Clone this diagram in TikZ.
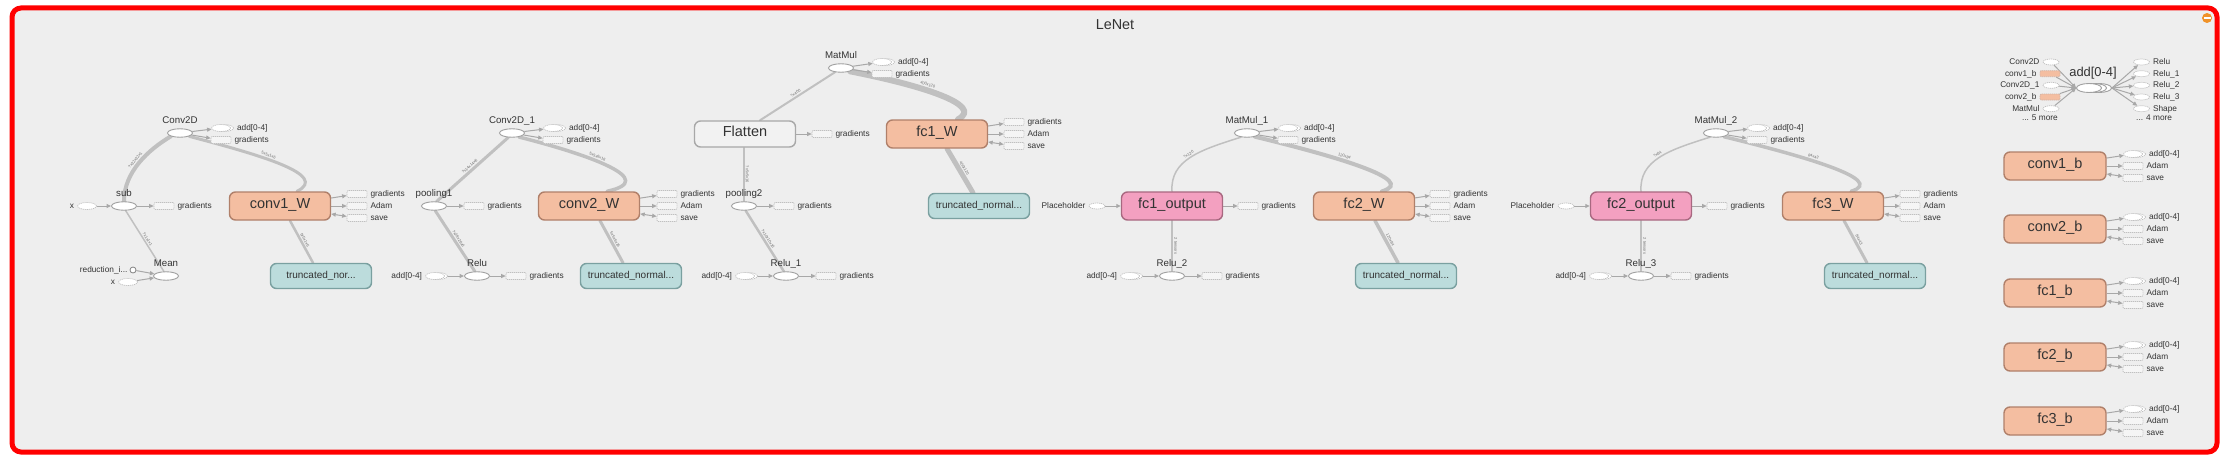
\documentclass[tikz,border=0pt]{standalone}
\usepackage{fontspec}
\setmainfont{Liberation Sans}
\usetikzlibrary{arrows.meta,shapes.geometric}
\pgfdeclarelayer{back}
\pgfdeclarelayer{edges}
\pgfsetlayers{back,edges,main}

\definecolor{bgc}{RGB}{238,238,238}
\definecolor{edgec}{RGB}{192,192,192}
\definecolor{arrc}{RGB}{168,168,168}
\definecolor{txtc}{RGB}{51,51,51}
\definecolor{elabc}{RGB}{110,110,110}
\definecolor{opdraw}{RGB}{160,160,160}
\definecolor{dashc}{RGB}{192,192,192}
\definecolor{drfill}{RGB}{245,245,245}
\definecolor{orfill}{RGB}{244,190,161}
\definecolor{ordraw}{RGB}{176,128,106}
\definecolor{pkfill}{RGB}{243,160,192}
\definecolor{pkdraw}{RGB}{168,104,128}
\definecolor{tlfill}{RGB}{188,220,220}
\definecolor{tldraw}{RGB}{122,160,160}
\definecolor{gyfill}{RGB}{242,242,242}
\definecolor{gydraw}{RGB}{168,168,168}
\definecolor{iconc}{RGB}{240,146,40}

\tikzset{
 opnode/.style={ellipse, draw=opdraw, fill=white, line width=0.9pt, minimum width=25pt, minimum height=8.5pt, inner sep=0pt},
 dellnode/.style={ellipse, draw=dashc, fill=white, dash pattern=on 1.2pt off 0.8pt, line width=0.7pt, minimum width=19pt, minimum height=7pt, inner sep=0pt},
 smallell/.style={dellnode, minimum width=16pt, minimum height=6pt},
 drectnode/.style={rectangle, rounded corners=1pt, draw=dashc, fill=drfill, dash pattern=on 1.2pt off 0.8pt, line width=0.7pt, minimum width=20pt, minimum height=7pt, inner sep=0pt},
 orrect/.style={drectnode, fill=orfill, draw=ordraw!60, minimum height=6pt},
 redcirc/.style={circle, draw=gray, fill=white, line width=0.8pt, minimum size=6pt, inner sep=0pt},
 bigbox/.style={rectangle, rounded corners=6pt, line width=1.4pt, minimum width=101pt, minimum height=28pt, inner sep=0pt, font=\fontsize{14.5}{16}\selectfont, text=txtc, text height=0.72em, text depth=0.2em},
 obox/.style={bigbox, fill=orfill, draw=ordraw},
 bbox/.style={obox, minimum width=102pt},
 pbox/.style={bigbox, fill=pkfill, draw=pkdraw},
 gbox/.style={bigbox, fill=gyfill, draw=gydraw, minimum height=26pt},
 tbox/.style={bigbox, fill=tlfill, draw=tldraw, minimum height=25pt, font=\fontsize{10}{12}\selectfont},
 oplab/.style={inner sep=0pt, font=\fontsize{9.7}{11}\selectfont, text=txtc},
 annlab/.style={inner sep=0pt, font=\fontsize{8.3}{10}\selectfont, text=txtc, text height=0.7em, text depth=0.2em},
 elab/.style={inner sep=1.2pt, font=\fontsize{4}{4}\selectfont, text=elabc, sloped, above},
 flowline/.style={draw=edgec, line cap=round},
 annarr/.style={draw=arrc, line width=1pt, -{Triangle[length=4.5pt,width=4pt]}},
 annboth/.style={draw=arrc, line width=1pt, {Triangle[length=4.5pt,width=4pt]}-{Triangle[length=4.5pt,width=4pt]}}
}

\newcommand{\opn}[4]{\node[opnode] (#1) at (#2,#3) {}; \node[oplab, anchor=base] (#1-t) at (#2,#3-9.5) {#4};}
\newcommand{\annR}[5]{\node[#1] (#2) at (#3,#4) {}; \node[annlab, anchor=west] (#2-t) at ([xshift=3pt]#2.east) {#5};}
\newcommand{\annL}[5]{\node[#1] (#2) at (#3,#4) {}; \node[annlab, anchor=east] (#2-t) at ([xshift=-3pt]#2.west) {#5};}
\newcommand{\serR}[4]{\node[dellnode] (#1-b) at (#2+3,#3) {}; \node[dellnode] (#1) at (#2,#3) {}; \node[annlab, anchor=west] (#1-t) at ([xshift=3pt]#1-b.east) {#4};}
\newcommand{\serL}[4]{\node[dellnode] (#1-b) at (#2+3,#3) {}; \node[dellnode] (#1) at (#2,#3) {}; \node[annlab, anchor=east] (#1-t) at ([xshift=-3pt]#1.west) {#4};}
\newcommand{\trioW}[3]{%
 \annR{drectnode}{#1g}{#2}{#3-12}{gradients}
 \annR{drectnode}{#1a}{#2}{#3}{Adam}
 \annR{drectnode}{#1s}{#2}{#3+12}{save}
 \begin{pgfonlayer}{edges}
 \draw[annarr] (#1) -- (#1g);
 \draw[annarr] (#1) -- (#1a);
 \draw[annboth] (#1) -- (#1s);
 \end{pgfonlayer}}
\newcommand{\trioB}[3]{%
 \node[bbox] (#1) at (2055,#2) {#3};
 \serR{#1g}{2133}{#2-12}{add[0-4]}
 \annR{drectnode}{#1a}{2133}{#2}{Adam}
 \annR{drectnode}{#1s}{2133}{#2+12}{save}
 \begin{pgfonlayer}{edges}
 \draw[annarr] (#1) -- (#1g);
 \draw[annarr] (#1) -- (#1a);
 \draw[annboth] (#1) -- (#1s);
 \end{pgfonlayer}}

\begin{document}
\begin{tikzpicture}[x=1pt,y=-1pt]
\useasboundingbox (0,0) rectangle (2230,460);
\begin{pgfonlayer}{back}
\fill[white] (0,0) rectangle (2230,460);
\draw[red, line width=5pt, rounded corners=9pt, fill=bgc] (12,8) rectangle (2217,452);
\end{pgfonlayer}
\node[font=\fontsize{14.4}{16}\selectfont, text=txtc, inner sep=0pt] (title) at (1115,25) {LeNet};
\node[circle, fill=iconc, minimum size=10pt, inner sep=0pt] (icon) at (2207,18) {};
\fill[white] ([xshift=-3.5pt,yshift=-1pt]icon.center) rectangle ([xshift=3.5pt,yshift=1pt]icon.center);

% ---------- module A ----------
\opn{conv2d}{180}{133}{Conv2D}
\serR{c2da}{221}{128}{add[0-4]}
\annR{drectnode}{c2dg}{221}{140}{gradients}
\opn{sub}{124}{206}{sub}
\annL{dellnode}{subx}{87}{206}{x}
\annR{drectnode}{subg}{164}{206}{gradients}
\opn{mean}{166}{276}{Mean}
\node[redcirc] (mred) at (133,270) {};
\node[annlab, anchor=east] (mred-t) at ([xshift=-2pt]mred.west) {reduction\_i...};
\annL{dellnode}{meanx}{128}{282}{x}
\node[obox] (conv1W) at (280,206) {conv1\_W};
\trioW{conv1W}{357}{206}
\node[tbox] (tn1) at (321,276) {truncated\_nor...};

% ---------- module B ----------
\opn{conv2da}{512}{133}{Conv2D\_1}
\serR{c2d1a}{553}{128}{add[0-4]}
\annR{drectnode}{c2d1g}{553}{140}{gradients}
\opn{pool1}{434}{206}{pooling1}
\annR{drectnode}{pool1g}{474}{206}{gradients}
\opn{relu}{477}{276}{Relu}
\serL{relua}{435}{276}{add[0-4]}
\annR{drectnode}{relug}{516}{276}{gradients}
\node[obox] (conv2W) at (589,206) {conv2\_W};
\trioW{conv2W}{667}{206}
\node[tbox] (tn2) at (631,276) {truncated\_normal...};

% ---------- module C ----------
\opn{matmul}{841}{68}{MatMul}
\serR{mma}{882}{62}{add[0-4]}
\annR{drectnode}{mmg}{882}{74}{gradients}
\node[gbox] (flatten) at (745,134) {Flatten};
\annR{drectnode}{flg}{822}{134}{gradients}
\node[obox] (fc1W) at (937,134) {fc1\_W};
\trioW{fc1W}{1014}{134}
\node[tbox] (tn3) at (979,206) {truncated\_normal...};
\opn{pool2}{744}{206}{pooling2}
\annR{drectnode}{pool2g}{784}{206}{gradients}
\opn{relu1}{786}{276}{Relu\_1}
\serL{relu1a}{745}{276}{add[0-4]}
\annR{drectnode}{relu1g}{826}{276}{gradients}

% ---------- module D ----------
\opn{matmul1}{1247}{133}{MatMul\_1}
\serR{mm1a}{1288}{128}{add[0-4]}
\annR{drectnode}{mm1g}{1288}{140}{gradients}
\annL{smallell}{ph1}{1097}{206}{Placeholder}
\node[pbox] (fc1out) at (1172,206) {fc1\_output};
\annR{drectnode}{fc1og}{1248}{206}{gradients}
\opn{relu2}{1172}{276}{Relu\_2}
\serL{relu2a}{1130}{276}{add[0-4]}
\annR{drectnode}{relu2g}{1212}{276}{gradients}
\node[obox] (fc2W) at (1364,206) {fc2\_W};
\trioW{fc2W}{1440}{206}
\node[tbox] (tn4) at (1406,276) {truncated\_normal...};

% ---------- module E ----------
\opn{matmul2}{1716}{133}{MatMul\_2}
\serR{mm2a}{1757}{128}{add[0-4]}
\annR{drectnode}{mm2g}{1757}{140}{gradients}
\annL{smallell}{ph2}{1566}{206}{Placeholder}
\node[pbox] (fc2out) at (1641,206) {fc2\_output};
\annR{drectnode}{fc2og}{1717}{206}{gradients}
\opn{relu3}{1641}{276}{Relu\_3}
\serL{relu3a}{1599}{276}{add[0-4]}
\annR{drectnode}{relu3g}{1681}{276}{gradients}
\node[obox] (fc3W) at (1833,206) {fc3\_W};
\trioW{fc3W}{1910}{206}
\node[tbox] (tn5) at (1875,276) {truncated\_normal...};

% ---------- right column ----------
\node[opnode, minimum height=9pt] (addcbb) at (2099,88) {};
\node[opnode, minimum height=9pt] (addcb) at (2094,88) {};
\node[opnode, minimum height=9pt] (addc) at (2089,88) {};
\node[inner sep=0pt, font=\fontsize{12.9}{14}\selectfont, text=txtc, anchor=base] (addc-t) at (2093,76.5) {add[0-4]};
\annL{smallell}{iA}{2051}{62}{Conv2D}
\annL{orrect}{iB}{2050}{73.7}{conv1\_b}
\annL{smallell}{iC}{2051}{85.3}{Conv2D\_1}
\annL{orrect}{iD}{2050}{97}{conv2\_b}
\annL{smallell}{iE}{2051}{108.7}{MatMul}
\node[annlab, anchor=east] (imore) at (2058,117.5) {... 5 more};
\annR{smallell}{oA}{2141.5}{62}{Relu}
\annR{smallell}{oB}{2141.5}{73.7}{Relu\_1}
\annR{smallell}{oC}{2141.5}{85.3}{Relu\_2}
\annR{smallell}{oD}{2141.5}{97}{Relu\_3}
\annR{smallell}{oE}{2141.5}{108.7}{Shape}
\node[annlab, anchor=west] (omore) at (2136,117.5) {... 4 more};

\trioB{conv1b}{166}{conv1\_b}
\trioB{conv2b}{229}{conv2\_b}
\trioB{fc1b}{293}{fc1\_b}
\trioB{fc2b}{357}{fc2\_b}
\trioB{fc3b}{421}{fc3\_b}

% ---------- edges ----------
\begin{pgfonlayer}{edges}
% module A
\draw[flowline, line width=4pt] (sub.north) .. controls (124,172) and (148,150) .. (conv2d.south west) node[elab, pos=0.5] {?x32x32x1};
\draw[flowline, line width=3pt] (conv2d.south east) .. controls (260,155) and (330,175) .. ([xshift=17pt]conv1W.north) node[elab, pos=0.4] {5x5x1x6};
\draw[flowline, line width=1.5pt] (sub.-70) -- (mean.115) node[elab, midway] {?x1x1x1};
\draw[flowline, line width=2.5pt] ([xshift=10pt]conv1W.south) -- ([xshift=-8pt]tn1.north) node[elab, midway] {5x5x1x6};
\draw[annarr] (conv2d) -- (c2da);
\draw[annarr] (conv2d) -- (c2dg);
\draw[annarr] (subx) -- (sub);
\draw[annarr] (sub) -- (subg);
\draw[annarr] (mred) -- (mean);
\draw[annarr] (meanx) -- (mean);
% module B
\draw[flowline, line width=3pt] (pool1.60) -- (conv2da.-130) node[elab, midway] {?x14x14x6};
\draw[flowline, line width=3.5pt] (conv2da.-30) .. controls (590,155) and (660,180) .. ([xshift=18pt]conv2W.north) node[elab, pos=0.4] {5x5x6x16};
\draw[flowline, line width=3pt] (pool1.-75) -- (relu.115) node[elab, midway] {?x28x28x6};
\draw[flowline, line width=3pt] ([xshift=11pt]conv2W.south) -- ([xshift=-8pt]tn2.north) node[elab, midway] {5x5x6x16};
\draw[annarr] (conv2da) -- (c2d1a);
\draw[annarr] (conv2da) -- (c2d1g);
\draw[annarr] (pool1) -- (pool1g);
\draw[annarr] (relua) -- (relu);
\draw[annarr] (relu) -- (relug);
% module C
\draw[flowline, line width=2pt] ([xshift=15pt]flatten.north) -- (matmul.-145) node[elab, midway] {?x400};
\draw[flowline, line width=6pt] (matmul.-20) .. controls (920,85) and (985,105) .. ([xshift=21pt]fc1W.north) node[elab, pos=0.4] {400x120};
\draw[flowline, line width=5pt] ([xshift=10pt]fc1W.south) -- ([xshift=-6pt]tn3.north) node[elab, midway] {400x120};
\draw[flowline, line width=1.5pt] ([xshift=-1pt]flatten.south) -- (pool2.north) node[elab, midway] {?x5x5x16};
\draw[flowline, line width=2.5pt] (pool2.-70) -- (relu1.115) node[elab, midway] {?x10x10x16};
\draw[annarr] (matmul) -- (mma);
\draw[annarr] (matmul) -- (mmg);
\draw[annarr] (flatten) -- (flg);
\draw[annarr] (pool2) -- (pool2g);
\draw[annarr] (relu1a) -- (relu1);
\draw[annarr] (relu1) -- (relu1g);
% module D
\draw[flowline, line width=1.5pt] (fc1out.north) .. controls (1170,160) and (1200,150) .. (matmul1.-145) node[elab, pos=0.5] {?x120};
\draw[flowline, line width=4pt] (matmul1.-25) .. controls (1330,155) and (1420,180) .. ([xshift=18pt]fc2W.north) node[elab, pos=0.4] {120x84};
\draw[flowline, line width=3.5pt] ([xshift=11pt]fc2W.south) -- ([xshift=-8pt]tn4.north) node[elab, midway] {120x84};
\draw[flowline, line width=2pt] (fc1out.south) -- (relu2.north) node[elab, midway] {2 tensors};
\draw[annarr] (matmul1) -- (mm1a);
\draw[annarr] (matmul1) -- (mm1g);
\draw[annarr] (ph1) -- (fc1out);
\draw[annarr] (fc1out) -- (fc1og);
\draw[annarr] (relu2a) -- (relu2);
\draw[annarr] (relu2) -- (relu2g);
% module E
\draw[flowline, line width=1.5pt] (fc2out.north) .. controls (1639,160) and (1669,150) .. (matmul2.-145) node[elab, pos=0.5] {?x84};
\draw[flowline, line width=3.5pt] (matmul2.-25) .. controls (1799,155) and (1889,180) .. ([xshift=18pt]fc3W.north) node[elab, pos=0.4] {84x43};
\draw[flowline, line width=3pt] ([xshift=11pt]fc3W.south) -- ([xshift=-8pt]tn5.north) node[elab, midway] {84x43};
\draw[flowline, line width=2pt] (fc2out.south) -- (relu3.north) node[elab, midway] {2 tensors};
\draw[annarr] (matmul2) -- (mm2a);
\draw[annarr] (matmul2) -- (mm2g);
\draw[annarr] (ph2) -- (fc2out);
\draw[annarr] (fc2out) -- (fc2og);
\draw[annarr] (relu3a) -- (relu3);
\draw[annarr] (relu3) -- (relu3g);
% right cluster
\foreach \n in {iA,iB,iC,iD,iE} \draw[annarr] (\n) -- (addc.west);
\foreach \n in {oA,oB,oC,oD,oE} \draw[annarr] (addcbb.east) -- (\n);
\end{pgfonlayer}
\end{tikzpicture}
\end{document}
